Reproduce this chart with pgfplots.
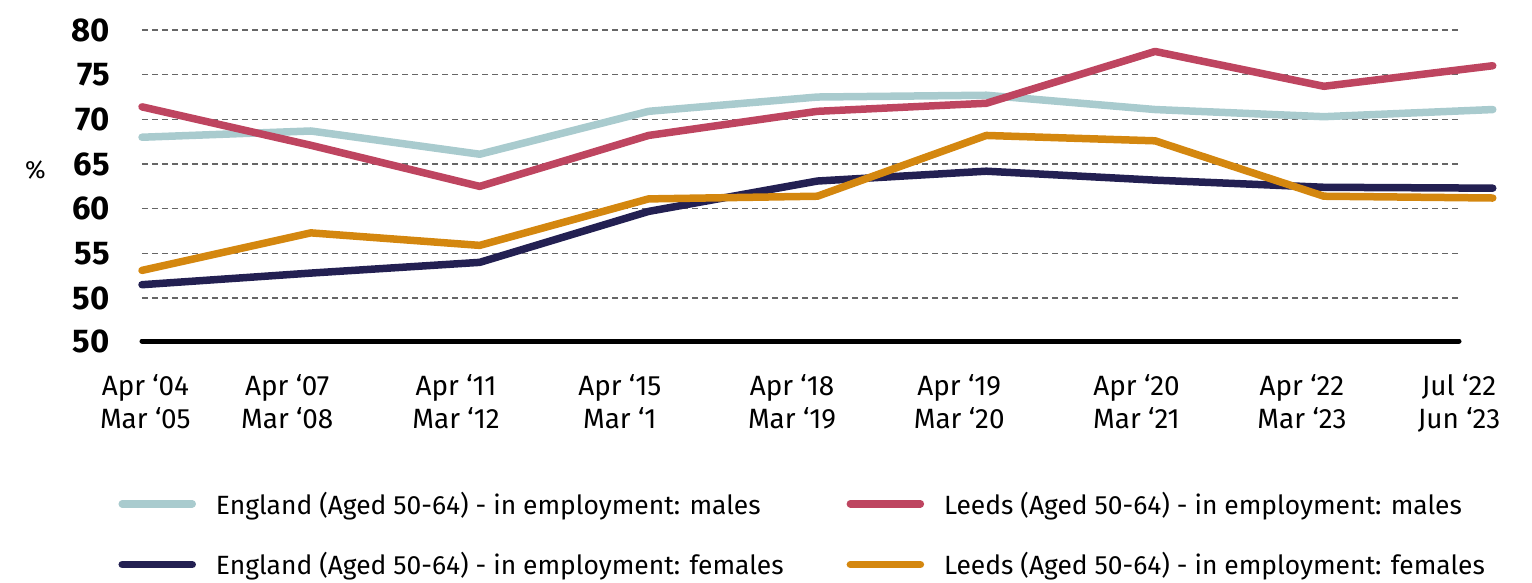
\documentclass[border=0pt]{standalone}
\usepackage{fontspec}
\setmainfont{Fira Sans}
\usepackage{pgfplots}
\pgfplotsset{compat=1.18}
\definecolor{engm}{HTML}{A9CBCE}
\definecolor{leem}{HTML}{BE4560}
\definecolor{engf}{HTML}{232052}
\definecolor{leef}{HTML}{D4870F}
\begin{document}
\begin{tikzpicture}
\begin{axis}[
 name=ax, at={(0,0)}, anchor=south west,
 scale only axis, width=1317bp, height=311bp,
 xmin=0, xmax=7.80, ymin=45.2, ymax=80,
 clip=false,
 axis x line*=bottom, axis y line*=left,
 x axis line style={line width=5bp, line cap=round, black},
 y axis line style={draw=none},
 major tick length=0pt,
 ytick={45.2,50,55,60,65,70,75,80},
 yticklabels={50,50,55,60,65,70,75,80},
 yticklabel style={font=\fontsize{33}{33}\selectfont\bfseries, inner sep=0pt, anchor=east, xshift=-32bp},
 ymajorgrids,
 grid style={line width=1.3bp, color=black!60, dash pattern=on 6bp off 4bp},
 xtick={0.02,0.86,1.86,2.83,3.85,4.84,5.89,6.87,7.80},
 xticklabels={{Apr ‘04\\Mar ‘05},{Apr ‘07\\Mar ‘08},{Apr ‘11\\Mar ‘12},{Apr ‘15\\Mar ‘1},{Apr ‘18\\Mar ‘19},{Apr ‘19\\Mar ‘20},{Apr ‘20\\Mar ‘21},{Apr ‘22\\Mar ‘23},{Jul ‘22\\Jun ‘23}},
 xticklabel style={font=\fontsize{28}{33}\selectfont, align=center, inner sep=0pt, anchor=north, yshift=-33bp},
 ylabel={\%},
 ylabel style={font=\fontsize{25}{25}\selectfont, rotate=-90, at={(rel axis cs:-0.081,0.549)}, anchor=center},
 legend columns=2,
 legend cell align=left,
 legend image code/.code={\draw[#1, line cap=round] (0bp,0bp) -- (70bp,0bp);},
 legend style={at={(rel axis cs:-0.018,-0.478)}, anchor=north west, draw=none, fill=none, inner sep=0pt,
   font=\fontsize{26.5}{31}\selectfont, row sep=33bp,
   /tikz/column 1/.style={column sep=18bp},
   /tikz/column 2/.style={column sep=61bp},
   /tikz/column 3/.style={column sep=18bp}},
 every axis plot/.append style={line width=7.5bp, line cap=round, line join=round},
]
\addplot[engm] coordinates {(0,68.0) (1,68.7) (2,66.1) (3,70.9) (4,72.5) (5,72.7) (6,71.1) (7,70.3) (8,71.1)};
\addlegendentry{England (Aged 50-64) - in employment: males}
\addplot[leem] coordinates {(0,71.4) (1,67.1) (2,62.5) (3,68.2) (4,70.9) (5,71.8) (6,77.6) (7,73.7) (8,76.0)};
\addlegendentry{Leeds (Aged 50-64) - in employment: males}
\addplot[engf] coordinates {(0,51.5) (1,52.8) (2,54.0) (3,59.7) (4,63.1) (5,64.2) (6,63.2) (7,62.4) (8,62.3)};
\addlegendentry{England (Aged 50-64) - in employment: females}
\addplot[leef] coordinates {(0,53.1) (1,57.3) (2,55.9) (3,61.1) (4,61.4) (5,68.2) (6,67.6) (7,61.4) (8,61.2)};
\addlegendentry{Leeds (Aged 50-64) - in employment: females}
\end{axis}
\pgfresetboundingbox
\path[use as bounding box] (ax.south west) ++(-142bp,-242bp) rectangle ++(1532bp,583bp);
\end{tikzpicture}
\end{document}
